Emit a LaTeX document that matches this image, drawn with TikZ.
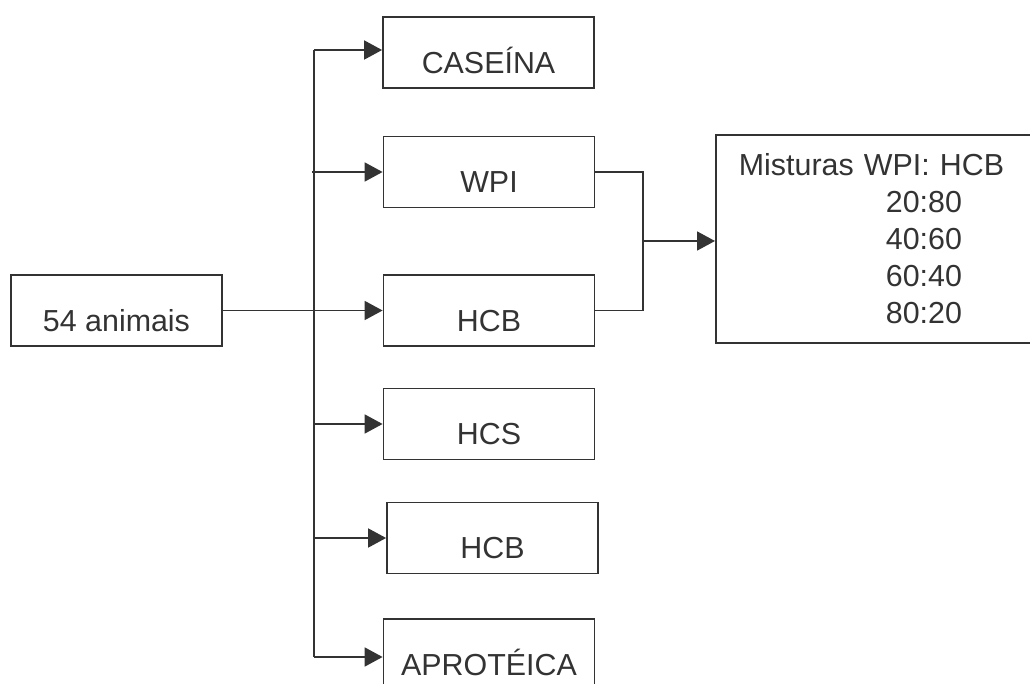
\documentclass[tikz,border=0pt]{standalone}
\usepackage{fontspec}
\setmainfont{Liberation Sans}
\usetikzlibrary{arrows.meta}

\begin{document}
\begin{tikzpicture}[x=0.5pt,y=-0.5pt]
\tikzset{every node/.style={text=black!80,font=\fontsize{15.2}{18.5}\selectfont},
grupo/.style={draw=black!80,line width=0.9pt,rectangle,inner sep=0pt,minimum width=105.5pt,text height=28.2pt,text depth=7.3pt},
seta/.style={draw=black!80,line width=0.9pt,-{Triangle[length=9pt,width=9.5pt]}},
linha/.style={draw=black!80,line width=0.9pt}}
\useasboundingbox (0,0) rectangle (1030,684);
\node[grupo] (animais) at (116.5,310.5) {54 animais};
\node[grupo] (caseina) at (488.5,52.5) {CASEÍNA};
\node[grupo] (wpi) at (489,172) {WPI};
\node[grupo] (hcb) at (489,310.5) {HCB};
\node[grupo] (hcs) at (489,424) {HCS};
\node[grupo] (hcbb) at (492.5,538) {HCB};
\node[grupo] (aproteica) at (489,654.5) {APROTÉICA};
\node[draw=black!80,line width=0.9pt,anchor=north west,align=left,inner xsep=11.5pt,inner ysep=0pt,minimum width=157.5pt,minimum height=104pt,text width=134.5pt] (misturas) at (715,134)
 {Misturas WPI: HCB\\ \hspace*{73.5pt}20:80\\ \hspace*{73.5pt}40:60\\ \hspace*{73.5pt}60:40\\ \hspace*{73.5pt}80:20};
% tronco
\coordinate (ttop) at (314,50);
\coordinate (tbot) at (314,657);
\draw[linha] (ttop) -- (tbot);
\draw[seta] (animais.east) -- (hcb.west);
\draw[seta] (ttop) -- (ttop -| caseina.west);
\draw[seta] (wpi.west -| 312,0) -- (wpi.west);
\draw[seta] (hcs.west -| ttop) -- (hcs.west);
\draw[seta] (hcbb.west -| ttop) -- (hcbb.west);
\draw[seta] (tbot) -- (tbot -| aproteica.west);
% misturas
\coordinate (juncao) at (643,241);
\draw[linha] (wpi.east) -| (juncao) |- (hcb.east);
\draw[seta] (juncao) -- (juncao -| misturas.west);
\end{tikzpicture}
\end{document}
